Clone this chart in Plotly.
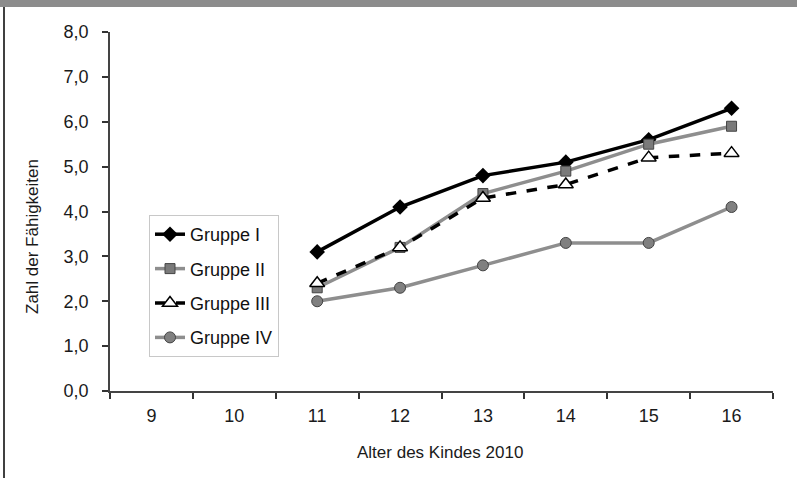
import plotly.graph_objects as go

categories = ["9", "10", "11", "12", "13", "14", "15", "16"]
ages = ["11", "12", "13", "14", "15", "16"]
gruppe_1 = [3.1, 4.1, 4.8, 5.1, 5.6, 6.3]
gruppe_2 = [2.3, 3.2, 4.4, 4.9, 5.5, 5.9]
gruppe_3 = [2.4, 3.2, 4.3, 4.6, 5.2, 5.3]
gruppe_4 = [2.0, 2.3, 2.8, 3.3, 3.3, 4.1]
y_ticks = [0, 1, 2, 3, 4, 5, 6, 7, 8]

FONT = "Liberation Sans, Arial, sans-serif"

fig = go.Figure()
fig.add_trace(go.Scatter(
    x=ages, y=gruppe_1, name="Gruppe I", mode="lines+markers", legendgroup="1",
    line=dict(color="#000000", width=3.5),
    marker=dict(symbol="diamond", size=12, color="#000000"),
))
fig.add_trace(go.Scatter(
    x=ages, y=gruppe_2, name="Gruppe II", mode="lines+markers", legendgroup="2",
    line=dict(color="#8e8e8e", width=3.5),
    marker=dict(symbol="square", size=10, color="#7a7a7a", line=dict(color="#444444", width=1)),
))
fig.add_trace(go.Scatter(
    x=ages, y=gruppe_3, name="Gruppe III", mode="lines+markers", legendgroup="3",
    line=dict(color="#000000", width=3.5, dash="dash"),
    marker=dict(symbol="triangle-up", size=13, color="#ffffff", line=dict(color="#000000", width=1.5)),
))
fig.add_trace(go.Scatter(
    x=ages, y=gruppe_4, name="Gruppe IV", mode="lines+markers", legendgroup="4",
    line=dict(color="#8e8e8e", width=3.5),
    marker=dict(symbol="circle", size=11, color="#808080", line=dict(color="#444444", width=1)),
))

W, H = 797, 478
L, R, T, B = 110, 24, 32, 87
pw, ph = W - L - R, H - T - B


def px(xp):
    return (xp - L) / pw


def py(yp):
    return (H - B - yp) / ph


fig.update_layout(
    width=W, height=H,
    margin=dict(l=L, r=R, t=T, b=B),
    paper_bgcolor="white", plot_bgcolor="white",
    separators=", ",
    font=dict(family=FONT, size=18, color="#1a1a1a"),
    showlegend=True,
    legend=dict(
        x=px(149), y=py(215), xanchor="left", yanchor="top",
        bordercolor="#c8c8c8", borderwidth=1, bgcolor="white",
        font=dict(family=FONT, size=18, color="#111111"),
        tracegroupgap=8, traceorder="grouped", itemwidth=30,
    ),
    xaxis=dict(
        type="category", categoryorder="array", categoryarray=categories,
        range=[-0.5, 7.5], tickson="boundaries", ticks="outside", ticklen=6,
        tickcolor="#333333", tickwidth=1.5,
        showline=True, linecolor="#444444", linewidth=1.5,
        showgrid=False, zeroline=False,
        tickfont=dict(size=18, color="#1a1a1a"),
        ticklabelstandoff=8,
    ),
    yaxis=dict(
        range=[0, 8], tickvals=y_ticks, tickformat=".1f",
        ticks="outside", ticklen=6, tickcolor="#333333", tickwidth=1.5,
        showline=True, linecolor="#444444", linewidth=1.5,
        showgrid=False, zeroline=False,
        tickfont=dict(size=18, color="#1a1a1a"),
        ticklabelstandoff=10,
    ),
    shapes=[
        dict(type="rect", xref="paper", yref="paper",
             x0=px(0), x1=px(W), y0=py(7), y1=py(0),
             fillcolor="#8c8c8c", line=dict(width=0), layer="above"),
        dict(type="line", xref="paper", yref="paper",
             x0=px(4), x1=px(4), y0=py(7), y1=py(H),
             line=dict(color="#000000", width=1.5)),
    ],
    annotations=[
        dict(text="Zahl der Fähigkeiten", xref="paper", yref="paper",
             x=px(32), y=py(237), textangle=-90, showarrow=False,
             xanchor="center", yanchor="middle",
             font=dict(family=FONT, size=17, color="#1a1a1a")),
        dict(text="Alter des Kindes 2010", xref="paper", yref="paper",
             x=px(440), y=py(452), showarrow=False,
             xanchor="center", yanchor="middle",
             font=dict(family=FONT, size=17, color="#1a1a1a")),
    ],
)

fig.write_html("out.html")
